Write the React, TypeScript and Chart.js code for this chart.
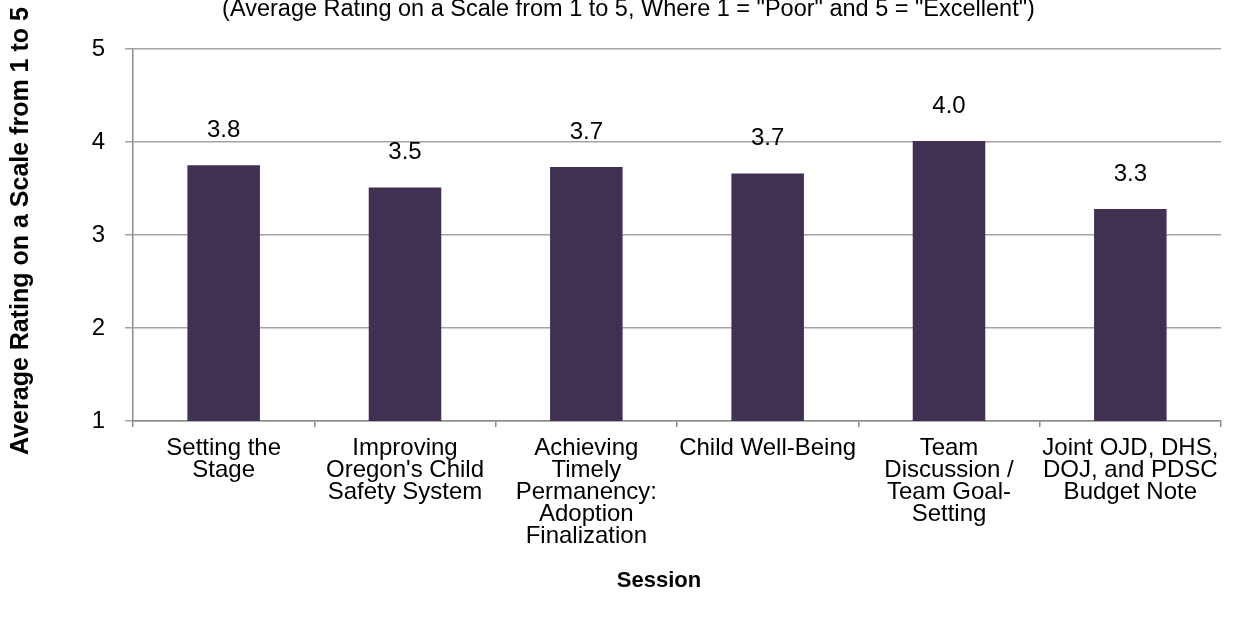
import React, { useEffect, useRef } from "react";
import { Chart, registerables } from "chart.js";

Chart.register(...registerables);

const chartTitle = '(Average Rating on a Scale from 1 to 5, Where 1 = "Poor" and 5 = "Excellent")';
const yAxisTitle = "Average Rating on a Scale from 1 to 5";
const xAxisTitle = "Session";

const sessions: string[][] = [
  ["Setting the", "Stage"],
  ["Improving", "Oregon's Child", "Safety System"],
  ["Achieving", "Timely", "Permanency:", "Adoption", "Finalization"],
  ["Child Well-Being"],
  ["Team", "Discussion /", "Team Goal-", "Setting"],
  ["Joint OJD, DHS,", "DOJ, and PDSC", "Budget Note"],
];

const ratings: number[] = [3.75, 3.51, 3.73, 3.66, 4.01, 3.28];
const ratingLabels: string[] = ratings.map((v) => v.toFixed(1));

const yTicks: number[] = [1, 2, 3, 4, 5];

const FONT = "Arial, 'Liberation Sans', sans-serif";
const BAR = "#403152";
const GRID = "#a3a3a3";
const AXIS = "#8c8c8c";

const overlayPlugin = {
  id: "overlay",
  afterDatasetsDraw(chart: any) {
    const ctx = chart.ctx;
    const area = chart.chartArea;
    ctx.save();
    ctx.fillStyle = "#000";
    ctx.textAlign = "center";

    // value labels
    ctx.font = `24px ${FONT}`;
    ctx.textBaseline = "middle";
    const meta = chart.getDatasetMeta(0);
    meta.data.forEach((bar: any, i: number) => {
      ctx.fillText(ratingLabels[i], bar.x, bar.y - 35);
    });

    // chart title (top, partly cut)
    ctx.textBaseline = "alphabetic";
    ctx.font = `23.5px ${FONT}`;
    ctx.fillText(chartTitle, chart.width / 2 + 11, 16);

    // x axis title
    ctx.textBaseline = "middle";
    ctx.font = `bold 22px ${FONT}`;
    ctx.fillText(xAxisTitle, (area.left + area.right) / 2 - 18, 581);

    // y axis title
    ctx.save();
    ctx.translate(21, (area.top + area.bottom) / 2 - 4);
    ctx.rotate(-Math.PI / 2);
    ctx.font = `bold 25px ${FONT}`;
    ctx.textBaseline = "middle";
    ctx.fillText(yAxisTitle, 0, 0);
    ctx.restore();

    ctx.restore();
  },
};

export default function App() {
  const ref = useRef<HTMLCanvasElement | null>(null);

  useEffect(() => {
    document.body.style.margin = "0";
    const canvas = ref.current;
    if (!canvas) return;
    const chart = new Chart(canvas, {
      type: "bar",
      data: {
        labels: sessions,
        datasets: [
          {
            data: ratings,
            backgroundColor: BAR,
            borderWidth: 0,
            barPercentage: 0.4,
            categoryPercentage: 1,
          },
        ],
      },
      options: {
        responsive: false,
        animation: false,
        devicePixelRatio: 1,
        layout: { padding: { top: 49, right: 14, left: 0, bottom: 0 } },
        plugins: {
          legend: { display: false },
          tooltip: { enabled: false },
          title: { display: false },
        },
        scales: {
          x: {
            type: "category",
            offset: true,
            grid: {
              offset: true,
              drawOnChartArea: false,
              drawTicks: true,
              tickLength: 6,
              color: AXIS,
              lineWidth: 1.5,
            },
            border: { display: true, color: AXIS, width: 1.5 },
            ticks: {
              color: "#000",
              font: { family: FONT, size: 24, lineHeight: "22px" },
              padding: 10,
              autoSkip: false,
              maxRotation: 0,
              minRotation: 0,
            },
            afterFit(scale: any) {
              scale.height = 619 - 421;
            },
          },
          y: {
            min: 1,
            max: 5,
            ticks: {
              stepSize: 1,
              color: "#000",
              font: { family: FONT, size: 24 },
              padding: 20,
              callback: (v: any) => (yTicks.includes(Number(v)) ? String(v) : ""),
            },
            grid: {
              color: GRID,
              lineWidth: 1.5,
              drawTicks: true,
              tickLength: 8,
            },
            border: { display: true, color: AXIS, width: 1.5 },
            afterFit(scale: any) {
              scale.width = 133;
            },
          },
        },
      },
      plugins: [overlayPlugin],
    });
    return () => chart.destroy();
  }, []);

  return (
    <div style={{ position: "absolute", left: 0, top: 0, width: 1235, height: 619, background: "#fff" }}>
      <canvas ref={ref} width={1235} height={619} style={{ display: "block" }} />
    </div>
  );
}
